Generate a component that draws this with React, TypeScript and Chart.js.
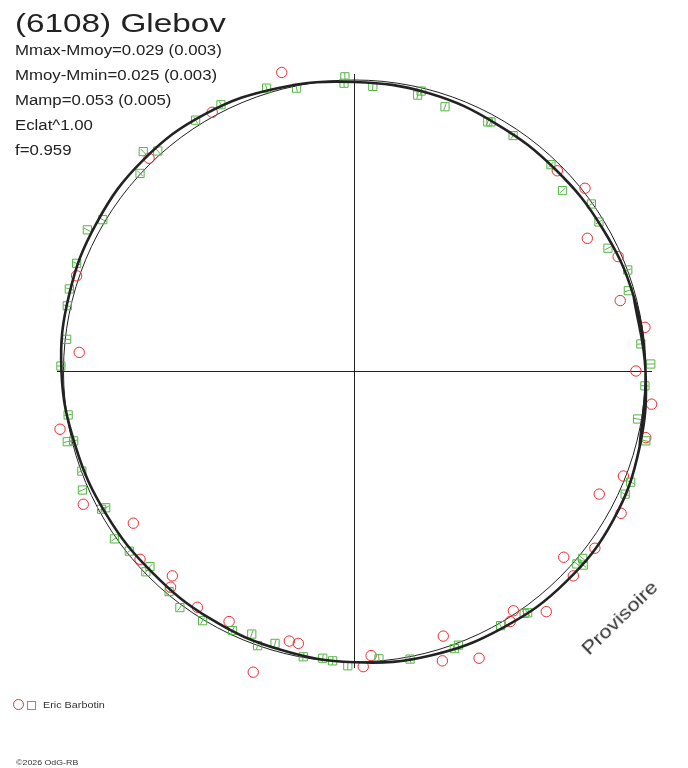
import React, { useEffect, useRef } from "react";
import { Chart, registerables } from "chart.js";

Chart.register(...registerables);

// ---- data (radius unit = mean reference circle) ----
// Fitted polar lightcurve: radius at each rotational phase angle (deg)
const fitAngles = [0, 15, 30, 45, 60, 75, 90, 105, 120, 135, 150, 165, 180, 195, 210, 225, 240, 255, 270, 285, 300, 315, 330, 345];
const fitRadius = [1.0, 0.993, 0.983, 0.978, 0.979, 0.988, 0.993, 1.007, 1.021, 1.026, 1.022, 1.015, 1.007, 0.993, 0.985, 0.981, 0.985, 0.991, 1.001, 1.012, 1.019, 1.026, 1.026, 1.014];
const refRadius = 1.0;
const axisHalfX = 1.0223;
const axisHalfY = 1.0206;

// Observer 1 (red circles)
const redX = [0.027, -0.25, 0.697, 0.792, 0.8, 0.906, 0.913, 0.998, 1.083, 0.967, 1.021, 1.001, 0.924, 0.841, 0.916, 0.826, 0.719, 0.752, 0.659, 0.546, 0.535, 0.305, 0.428, 0.302, 0.057, 0.03, -0.067, -0.224, -0.193, -0.348, -0.431, -0.54, -0.626, -0.632, -0.737, -0.76, -0.932, -1.012, -0.946, -0.955, -0.706, -0.489];
const redY = [1.046, 1.026, 0.688, 0.628, 0.456, 0.393, 0.242, 0.15, 0.037, 0.0, -0.114, -0.229, -0.361, -0.423, -0.489, -0.609, -0.64, -0.704, -0.827, -0.824, -0.861, -0.911, -0.987, -0.996, -0.978, -1.016, -1.079, -0.928, -0.936, -1.035, -0.861, -0.812, -0.704, -0.743, -0.647, -0.523, -0.458, -0.2, 0.064, 0.327, 0.731, 0.889];

// Observer 2 (green squares)
const greenX = [-0.033, -0.036, 0.063, 0.229, 0.217, 0.311, 0.458, 0.469, 0.545, 0.675, 0.715, 0.814, 0.84, 0.871, 0.939, 0.941, 0.984, 1.018, 0.998, 0.973, 1.001, 0.949, 0.93, 0.764, 0.784, 0.786, 0.583, 0.595, 0.502, 0.343, 0.357, 0.191, 0.084, -0.023, -0.075, -0.109, -0.176, -0.273, -0.333, -0.353, -0.419, -0.522, -0.6, -0.637, -0.703, -0.717, -0.774, -0.825, -0.855, -0.869, -0.935, -0.937, -0.965, -0.987, -0.984, -1.009, -0.989, -0.987, -0.98, -0.955, -0.918, -0.865, -0.737, -0.726, -0.676, -0.546, -0.459, -0.302, -0.199];
const greenY = [1.011, 0.989, 0.978, 0.962, 0.948, 0.908, 0.856, 0.856, 0.809, 0.709, 0.62, 0.574, 0.512, 0.422, 0.347, 0.276, 0.093, 0.024, -0.051, -0.165, -0.24, -0.382, -0.423, -0.663, -0.644, -0.667, -0.833, -0.831, -0.875, -0.954, -0.942, -0.99, -0.989, -1.013, -0.996, -0.987, -0.982, -0.936, -0.944, -0.904, -0.892, -0.858, -0.813, -0.758, -0.672, -0.69, -0.619, -0.577, -0.47, -0.475, -0.409, -0.344, -0.24, -0.243, -0.151, 0.017, 0.109, 0.224, 0.282, 0.37, 0.485, 0.52, 0.679, 0.754, 0.756, 0.862, 0.915, 0.972, 0.972];

const titleText = "(6108) Glebov";
const statLines = ["Mmax-Mmoy=0.029 (0.003)", "Mmoy-Mmin=0.025 (0.003)", "Mamp=0.053 (0.005)", "Eclat^1.00", "f=0.959"];
const observerName = "Eric Barbotin";
const copyrightText = "\u00a92026 OdG-RB";
const stampText = "Provisoire";

const RED = "#ec2a30";
const GREEN = "#55b546";
const INK = "#222222";
const FONT = '"Liberation Sans", Arial, Helvetica, sans-serif';

const refCirclePlugin = {
  id: "refCircle",
  beforeDatasetsDraw(chart: any) {
    const { ctx, scales } = chart;
    const xs = scales.x;
    const ys = scales.y;
    const cx = xs.getPixelForValue(0);
    const cy = ys.getPixelForValue(0);
    const rx = xs.getPixelForValue(refRadius) - cx;
    const ry = cy - ys.getPixelForValue(refRadius);
    ctx.save();
    ctx.beginPath();
    ctx.ellipse(cx, cy, rx, ry, 0, 0, Math.PI * 2);
    ctx.strokeStyle = INK;
    ctx.lineWidth = 1;
    ctx.stroke();
    ctx.restore();
  },
};

export default function App() {
  const canvasRef = useRef<HTMLCanvasElement>(null);

  useEffect(() => {
    const deg = Math.PI / 180;
    const n = fitAngles.length;
    const fitPts: { x: number; y: number }[] = [];
    for (let k = -1; k <= n + 1; k++) {
      const i = (k + n) % n;
      const a = fitAngles[i] * deg;
      fitPts.push({ x: fitRadius[i] * Math.cos(a), y: fitRadius[i] * Math.sin(a) });
    }
    const redPts = redX.map((x, i) => ({ x, y: redY[i] }));
    const greenPts = greenX.map((x, i) => ({ x, y: greenY[i] }));

    const zeroOnly = (s: any) => {
      s.ticks = [{ value: 0 }];
    };

    const chart = new Chart(canvasRef.current as HTMLCanvasElement, {
      type: "scatter",
      data: {
        datasets: [
          {
            label: "fit",
            data: fitPts,
            showLine: true,
            borderColor: INK,
            borderWidth: 2.6,
            pointRadius: 0,
            tension: 0.4,
            fill: false,
            clip: false,
          } as any,
          {
            label: "errors",
            data: greenPts,
            pointStyle: "line",
            pointRadius: 3.8,
            borderColor: GREEN,
            borderWidth: 1,
            rotation: (c: any) => {
              const p = c.raw;
              return p ? (-Math.atan2(p.y, p.x) * 180) / Math.PI : 0;
            },
            clip: false,
          } as any,
          {
            label: observerName,
            data: greenPts,
            pointStyle: "rect",
            pointRadius: 5.8,
            borderColor: GREEN,
            backgroundColor: "rgba(0,0,0,0)",
            borderWidth: 1,
            clip: false,
          } as any,
          {
            label: observerName + " (2)",
            data: redPts,
            pointStyle: "circle",
            pointRadius: 5.2,
            borderColor: RED,
            backgroundColor: "rgba(0,0,0,0)",
            borderWidth: 1,
            clip: false,
          } as any,
        ],
      },
      options: {
        responsive: false,
        animation: false,
        events: [],
        layout: { padding: { left: 57, right: 36, top: 74, bottom: 100 } },
        plugins: { legend: { display: false }, tooltip: { enabled: false } },
        scales: {
          x: {
            type: "linear",
            min: -axisHalfX,
            max: axisHalfX,
            afterBuildTicks: zeroOnly,
            ticks: { display: false },
            grid: { color: INK, lineWidth: 1, drawTicks: false },
            border: { display: false },
          },
          y: {
            type: "linear",
            min: -axisHalfY,
            max: axisHalfY,
            afterBuildTicks: zeroOnly,
            ticks: { display: false },
            grid: { color: INK, lineWidth: 1, drawTicks: false },
            border: { display: false },
          },
        },
      } as any,
      plugins: [refCirclePlugin],
    });
    return () => chart.destroy();
  }, []);

  const textBase: React.CSSProperties = {
    position: "absolute",
    fontFamily: FONT,
    color: INK,
    whiteSpace: "nowrap",
    lineHeight: 1,
    transformOrigin: "0 0",
  };

  return (
    <div style={{ position: "absolute", left: 0, top: 0, width: 688, height: 768, background: "#fff", overflow: "hidden" }}>
      <canvas ref={canvasRef} width={688} height={768} style={{ position: "absolute", left: 0, top: 0, width: 688, height: 768 }} />
      <div style={{ ...textBase, left: 15, top: 10, fontSize: 26, transform: "scaleX(1.28)" }}>{titleText}</div>
      {statLines.map((t, i) => (
        <div key={t} style={{ ...textBase, left: 15, top: 43 + i * 25, fontSize: 14, transform: "scaleX(1.2)" }}>
          {t}
        </div>
      ))}
      <div
        style={{
          position: "absolute",
          left: 13,
          top: 699,
          width: 9,
          height: 9,
          border: "1px solid " + RED,
          borderRadius: "50%",
        }}
      />
      <div
        style={{
          position: "absolute",
          left: 26.5,
          top: 701,
          width: 7,
          height: 7,
          border: "1px solid " + GREEN,
        }}
      />
      <div style={{ ...textBase, left: 43, top: 701, fontSize: 9, color: "#333", transform: "scaleX(1.2)" }}>{observerName}</div>
      <div style={{ ...textBase, left: 16, top: 759, fontSize: 8, color: "#333", transform: "scaleX(1.1)" }}>{copyrightText}</div>
      <div
        style={{
          ...textBase,
          left: 589,
          top: 640,
          fontSize: 19,
          color: "#333",
          transformOrigin: "0px 16px",
          transform: "rotate(-44deg) scaleX(1.15)",
        }}
      >
        {stampText}
      </div>
    </div>
  );
}
